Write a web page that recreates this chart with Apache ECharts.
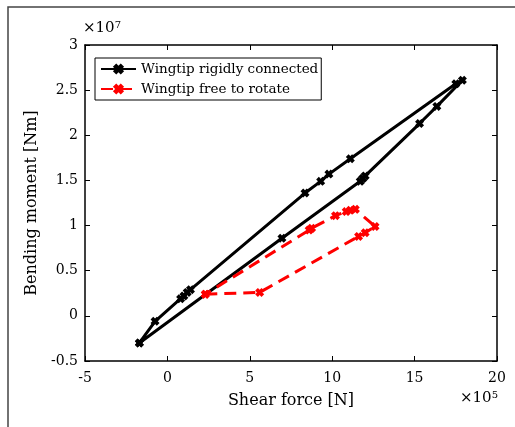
<!DOCTYPE html>
<html>
<head>
<meta charset="utf-8">
<script src="https://cdn.jsdelivr.net/npm/echarts@6/dist/echarts.min.js"></script>
<style>html,body{margin:0;padding:0;background:#fff;}#c{width:515px;height:427px;}</style>
</head>
<body>
<div id="c"></div>
<script>
// Values in units of x 10^5 N (shear) and x 10^7 Nm (moment)
var rigidShear  = [-1.7, -0.75, 0.8, 1.0, 1.2, 1.4, 8.35, 9.3, 9.8, 11.1, 17.5, 17.9, 16.35, 15.3, 12.0, 11.85, 11.7, 6.95, -1.7];
var rigidMoment = [-0.3, -0.06, 0.19, 0.22, 0.26, 0.29, 1.36, 1.49, 1.57, 1.74, 2.57, 2.61, 2.32, 2.13, 1.55, 1.52, 1.49, 0.86, -0.3];
var freeShear  = [2.3, 5.6, 11.6, 12.0, 12.6, 11.4, 11.1, 10.85, 10.2, 8.75, 8.6, 2.3];
var freeMoment = [0.24, 0.26, 0.88, 0.92, 0.99, 1.18, 1.17, 1.155, 1.11, 0.97, 0.95, 0.24];
var seriesNames = ['Wingtip rigidly connected', 'Wingtip free to rotate'];
var xTicks = [-5, 0, 5, 10, 15, 20];
var yTicks = [-0.5, 0, 0.5, 1, 1.5, 2, 2.5, 3];

function pairs(xs, ys) { return xs.map(function (x, i) { return [x, ys[i]]; }); }
var xMark = 'path://M3,0 L5,2 L7,0 L10,3 L8,5 L10,7 L7,10 L5,8 L3,10 L0,7 L2,5 L0,3 Z';
var tickFont = 'DejaVu Serif';
var textFont = 'DejaVu Serif';

var chart = echarts.init(document.getElementById('c'));
var axisCommon = {
  type: 'value',
  axisLine: { show: true, onZero: false, lineStyle: { color: '#000', width: 1.5 } },
  axisTick: { show: true, inside: true, length: 5, lineStyle: { color: '#000', width: 1 } },
  splitLine: { show: false }
};
chart.setOption({
  animation: false,
  backgroundColor: '#fff',
  grid: { left: 85, right: 18, top: 45, bottom: 66 },
  legend: {
    left: 95, top: 58, orient: 'vertical',
    borderColor: '#000', borderWidth: 1, padding: [4, 3, 4, 5],
    itemWidth: 35, itemHeight: 14, itemGap: 6,
    textStyle: { fontFamily: textFont, fontSize: 13.5, color: '#000' },
    data: seriesNames
  },
  xAxis: [
    Object.assign({}, axisCommon, {
      min: xTicks[0], max: xTicks[xTicks.length - 1], interval: 5,
      name: 'Shear force [N]', nameLocation: 'middle', nameGap: 32,
      nameTextStyle: { fontFamily: textFont, fontSize: 16, color: '#000' },
      axisLabel: { margin: 10, fontFamily: tickFont, fontSize: 14, color: '#000' }
    }),
    Object.assign({}, axisCommon, {
      position: 'top', min: xTicks[0], max: xTicks[xTicks.length - 1], interval: 5,
      axisLabel: { show: false }
    })
  ],
  yAxis: [
    Object.assign({}, axisCommon, {
      min: yTicks[0], max: yTicks[yTicks.length - 1], interval: 0.5,
      name: 'Bending moment [Nm]', nameLocation: 'middle', nameGap: 44,
      nameTextStyle: { fontFamily: textFont, fontSize: 16, color: '#000' },
      axisLabel: { margin: 7, fontFamily: tickFont, fontSize: 14, color: '#000' }
    }),
    Object.assign({}, axisCommon, {
      position: 'right', min: yTicks[0], max: yTicks[yTicks.length - 1], interval: 0.5,
      axisLabel: { show: false }
    })
  ],
  graphic: [
    { type: 'rect', shape: { x: 8, y: 7, width: 600, height: 500 },
      style: { fill: 'none', stroke: '#444', lineWidth: 1.5 }, silent: true },
    { type: 'text', left: 83, top: 20,
      style: { text: '×10{s|7}', font: '15px "DejaVu Serif"', fill: '#000',
        rich: { s: { fontSize: 10, fontFamily: textFont, verticalAlign: 'top', padding: [0, 0, 6, 0] } } } },
    { type: 'text', left: 460, top: 390,
      style: { text: '×10{s|5}', font: '15px "DejaVu Serif"', fill: '#000',
        rich: { s: { fontSize: 10, fontFamily: textFont, verticalAlign: 'top', padding: [0, 0, 6, 0] } } } }
  ],
  series: [
    {
      name: seriesNames[0], type: 'line', data: pairs(rigidShear, rigidMoment),
      symbol: xMark, symbolSize: 9, showSymbol: true,
      lineStyle: { color: '#000', width: 3 },
      itemStyle: { color: '#000' }
    },
    {
      name: seriesNames[1], type: 'line', data: pairs(freeShear, freeMoment),
      symbol: xMark, symbolSize: 9, showSymbol: true,
      lineStyle: { color: '#ff0000', width: 3, type: [12, 7] },
      itemStyle: { color: '#ff0000' }
    }
  ]
});
</script>
</body>
</html>
